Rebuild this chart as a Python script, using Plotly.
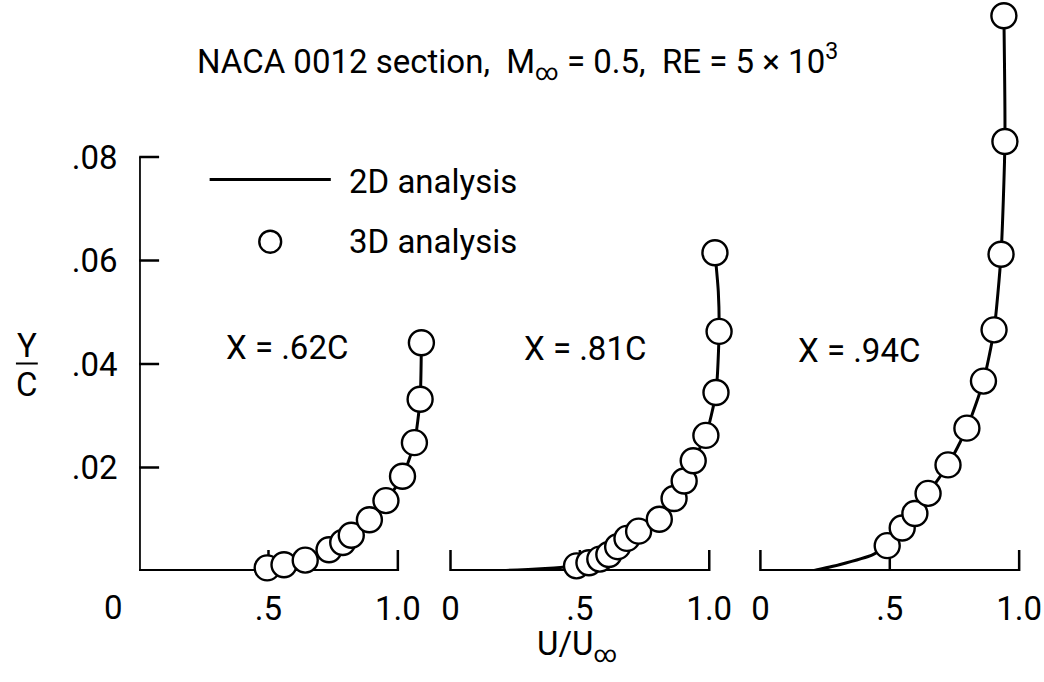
import plotly.graph_objects as go

W, H = 1044, 682

# ---------------- data ----------------
# Station X = .62C
u62_3d = [0.495, 0.560, 0.642, 0.734, 0.787, 0.820, 0.890, 0.954, 1.018, 1.064, 1.086, 1.091]
y62_3d = [0.0006, 0.0012, 0.0021, 0.0041, 0.0055, 0.0069, 0.0099, 0.0136, 0.0183, 0.0248, 0.0332, 0.0441]
u62_2d = [0.0, 0.45, 0.495, 0.560, 0.642, 0.734, 0.787, 0.820, 0.890, 0.954, 1.018, 1.064, 1.086, 1.091]
y62_2d = [0.0, 0.0, 0.0006, 0.0012, 0.0021, 0.0041, 0.0055, 0.0069, 0.0099, 0.0136, 0.0183, 0.0248, 0.0332, 0.0441]

# Station X = .81C
u81_3d = [0.487, 0.535, 0.577, 0.612, 0.646, 0.682, 0.727, 0.807, 0.864, 0.903, 0.938, 0.987, 1.026, 1.038, 1.022]
y81_3d = [0.0010, 0.0016, 0.0023, 0.0032, 0.0047, 0.0063, 0.0077, 0.0100, 0.0140, 0.0174, 0.0213, 0.0262, 0.0345, 0.0463, 0.0615]
u81_2d = [0.0, 0.20, 0.30, 0.40, 0.45, 0.487, 0.535, 0.577, 0.612, 0.646, 0.682, 0.727, 0.807, 0.864, 0.903, 0.938, 0.987, 1.026, 1.038, 1.035, 1.022]
y81_2d = [0.0, 0.0001, 0.0003, 0.0006, 0.0008, 0.0010, 0.0016, 0.0023, 0.0032, 0.0047, 0.0063, 0.0077, 0.0100, 0.0140, 0.0174, 0.0213, 0.0262, 0.0345, 0.0463, 0.0540, 0.0615]

# Station X = .94C
u94_3d = [0.490, 0.548, 0.597, 0.648, 0.725, 0.798, 0.862, 0.903, 0.930, 0.945, 0.941]
y94_3d = [0.0049, 0.0083, 0.0111, 0.0150, 0.0205, 0.0276, 0.0367, 0.0466, 0.0612, 0.0830, 0.1073]
u94_2d = [0.20, 0.305, 0.433, 0.490, 0.548, 0.597, 0.648, 0.725, 0.798, 0.862, 0.903, 0.930, 0.945, 0.941]
y94_2d = [0.0, 0.0012, 0.0031, 0.0049, 0.0083, 0.0111, 0.0150, 0.0205, 0.0276, 0.0367, 0.0466, 0.0612, 0.0830, 0.1073]

stations = ["X = .62C", "X = .81C", "X = .94C"]
x_tickvals = [0.0, 0.5, 1.0]
x_ticktext = ["0", ".5", "1.0"]
y_tickvals = [0.02, 0.04, 0.06, 0.08]
y_ticktext = [".02", ".04", ".06", ".08"]
legend_names = ["2D analysis", "3D analysis"]

# ---------------- geometry ----------------
FONT = "Roboto, Liberation Sans, sans-serif"
PXU = 260.5          # px per unit of U/Uinf
PXY = 5175.0         # px per unit of Y/C
BASE = 571.0         # px of Y/C = 0
origins = [134.0, 447.5, 759.5]
xranges = [[0.0, 1.19], [-0.012, 1.15], [-0.04, 1.085]]
yrange = [0.0, 0.11]

def xdom(i):
    o = origins[i]
    r = xranges[i]
    return [(o + r[0] * PXU) / W, (o + r[1] * PXU) / W]

ydom = [(H - BASE) / H, (H - (BASE - yrange[1] * PXY)) / H]

def px(xp):
    return xp / W

def py(yp):
    return 1 - yp / H

fig = go.Figure()

sets = [(u62_2d, y62_2d, u62_3d, y62_3d), (u81_2d, y81_2d, u81_3d, y81_3d), (u94_2d, y94_2d, u94_3d, y94_3d)]
axnames = ["x", "x2", "x3"]
for i, (u2, y2, u3, y3) in enumerate(sets):
    fig.add_trace(go.Scatter(x=u2, y=y2, mode="lines", xaxis=axnames[i], yaxis="y",
                             line=dict(color="black", width=3, shape="spline", smoothing=0.6),
                             name=legend_names[0], showlegend=False, hoverinfo="skip"))
    fig.add_trace(go.Scatter(x=u3, y=y3, mode="markers", xaxis=axnames[i], yaxis="y",
                             marker=dict(symbol="circle", size=25, color="white",
                                         line=dict(color="black", width=2.4)),
                             cliponaxis=False, name=legend_names[1], showlegend=False))

shapes = []
# baselines and x ticks
for i, ax in enumerate(axnames):
    shapes.append(dict(type="line", xref=ax, yref="y", x0=0, x1=1.0, y0=0, y1=0,
                       line=dict(color="black", width=4), layer="below"))
    tv = x_tickvals if i > 0 else x_tickvals[1:]
    for t in tv:
        shapes.append(dict(type="line", xref=ax, yref="y", x0=t, x1=t,
                           ysizemode="pixel", yanchor=0, y0=0, y1=21,
                           line=dict(color="black", width=2.5), layer="below"))
# y axis line and ticks
shapes.append(dict(type="line", xref="x", yref="y", x0=0, x1=0, y0=0, y1=0.08,
                   line=dict(color="black", width=3.5), layer="below"))
for t in y_tickvals:
    shapes.append(dict(type="line", xref="x", yref="y", y0=t, y1=t,
                       xsizemode="pixel", xanchor=0, x0=0, x1=20,
                       line=dict(color="black", width=2.5), layer="below"))
# legend symbols
shapes.append(dict(type="line", xref="paper", yref="paper", x0=px(205), x1=px(327),
                   y0=py(179.5), y1=py(179.5), line=dict(color="black", width=3)))
r = 11
shapes.append(dict(type="circle", xref="paper", yref="paper",
                   x0=px(266 - r), x1=px(266 + r), y0=py(241.7 + r), y1=py(241.7 - r),
                   line=dict(color="black", width=2.4), fillcolor="white"))
# Y/C fraction bar
shapes.append(dict(type="line", xref="paper", yref="paper", x0=px(10), x1=px(32),
                   y0=py(363.5), y1=py(363.5), line=dict(color="black", width=2)))

tf = dict(family=FONT, size=33, color="black")
ann = []
ann.append(dict(text="NACA 0012 section,  M<sub>∞</sub> = 0.5,  RE = 5 × 10<sup>3</sup>",
                xref="paper", yref="paper", x=px(515), y=py(62), xanchor="center", yanchor="middle",
                showarrow=False, font=tf))
ann.append(dict(text=legend_names[0], xref="paper", yref="paper", x=px(343), y=py(181),
                xanchor="left", yanchor="middle", showarrow=False, font=tf))
ann.append(dict(text=legend_names[1], xref="paper", yref="paper", x=px(343), y=py(241),
                xanchor="left", yanchor="middle", showarrow=False, font=tf))
centers = [282.5, 582.5, 859.0]
ys = [347, 348, 350]
for c, yv, s in zip(centers, ys, stations):
    ann.append(dict(text=s, xref="paper", yref="paper", x=px(c), y=py(yv),
                    xanchor="center", yanchor="middle", showarrow=False, font=tf))
ann.append(dict(text="Y", xref="paper", yref="paper", x=px(21), y=py(345),
                xanchor="center", yanchor="middle", showarrow=False, font=tf))
ann.append(dict(text="C", xref="paper", yref="paper", x=px(21), y=py(384),
                xanchor="center", yanchor="middle", showarrow=False, font=tf))
ann.append(dict(text="U/U<sub>∞</sub>", xref="paper", yref="paper", x=px(533), y=py(646),
                xanchor="left", yanchor="middle", showarrow=False, font=tf))
# '0' label of first panel sits left of the y axis
ann.append(dict(text=x_ticktext[0], xref="x", yref="y", x=0, y=0, xshift=-26, yshift=-36,
                xanchor="center", yanchor="middle", showarrow=False, font=tf))

common_x = dict(showgrid=False, zeroline=False, showline=False, ticks="outside",
                ticklen=8, tickcolor="rgba(0,0,0,0)", tickfont=tf, anchor="y",
                ticklabeloverflow="allow", fixedrange=True)
layout = dict(
    width=W, height=H, margin=dict(l=0, r=0, t=0, b=0),
    paper_bgcolor="white", plot_bgcolor="rgba(0,0,0,0)", showlegend=False,
    shapes=shapes, annotations=ann,
    yaxis=dict(domain=ydom, range=yrange, anchor="x", showgrid=False, zeroline=False,
               showline=False, ticks="outside", ticklen=14, tickcolor="rgba(0,0,0,0)",
               tickvals=y_tickvals, ticktext=y_ticktext, tickfont=tf, fixedrange=True),
)
for i, ax in enumerate(["xaxis", "xaxis2", "xaxis3"]):
    d = dict(common_x)
    d["domain"] = xdom(i)
    d["range"] = xranges[i]
    if i == 0:
        d["tickvals"] = x_tickvals[1:]
        d["ticktext"] = x_ticktext[1:]
    else:
        d["tickvals"] = x_tickvals
        d["ticktext"] = x_ticktext
    layout[ax] = d

fig.update_layout(**layout)
fig.write_html("out.html", config={"displayModeBar": False},
               post_script="document.body.style.margin='0';document.body.style.overflow='hidden';")
